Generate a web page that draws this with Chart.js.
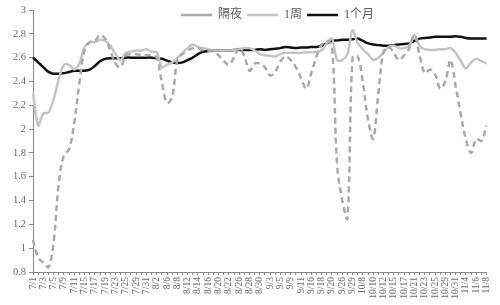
<!DOCTYPE html>
<html>
<head>
<meta charset="utf-8">
<script src="https://cdn.jsdelivr.net/npm/chart.js@4"></script>
<style>
html, body { margin: 0; padding: 0; background: #fff; }
</style>
</head>
<body>
<canvas id="rateChart" width="500" height="305"></canvas>
<script>
// trading days, Jul - Nov
var dates = ['7/1','7/2','7/3','7/4','7/5','7/8','7/9','7/10','7/11','7/12','7/15','7/16','7/17','7/18','7/19','7/22','7/23','7/24','7/25','7/26','7/29','7/30','7/31',
    '8/1','8/2','8/5','8/6','8/7','8/8','8/9','8/12','8/13','8/14','8/15','8/16','8/19','8/20','8/21','8/22','8/23','8/26','8/27','8/28','8/29','8/30',
    '9/2','9/3','9/4','9/5','9/6','9/9','9/10','9/11','9/12','9/16','9/17','9/18','9/19','9/20','9/23','9/26','9/27','9/29','9/30',
    '10/8','10/9','10/10','10/11','10/12','10/14','10/15','10/16','10/17','10/18','10/21','10/22','10/23','10/24','10/25','10/28','10/29','10/30','10/31',
    '11/1','11/4','11/5','11/6','11/7','11/8'];

var overnight = [1.07,0.92,0.88,0.84,1.05,1.55,1.78,1.83,2.05,2.39,2.66,2.73,2.74,2.79,2.76,2.66,2.55,2.52,2.62,2.63,2.63,2.62,2.62,
    2.62,2.60,2.39,2.22,2.27,2.58,2.63,2.66,2.68,2.68,2.66,2.66,2.65,2.62,2.57,2.54,2.60,2.68,2.61,2.49,2.55,2.55,
    2.52,2.45,2.48,2.57,2.61,2.58,2.52,2.43,2.34,2.47,2.61,2.71,2.74,2.70,1.70,1.40,1.25,2.60,2.61,
    2.39,2.08,1.92,2.30,2.65,2.69,2.64,2.58,2.62,2.68,2.79,2.62,2.47,2.50,2.46,2.34,2.40,2.58,2.36,
    2.12,1.91,1.80,1.92,1.90,2.03];

var oneWeek = [2.30,2.03,2.13,2.14,2.25,2.42,2.54,2.54,2.50,2.55,2.69,2.73,2.73,2.75,2.74,2.70,2.63,2.58,2.64,2.65,2.66,2.66,2.67,
    2.65,2.645,2.52,2.54,2.56,2.60,2.64,2.68,2.71,2.69,2.68,2.67,2.66,2.66,2.66,2.66,2.665,2.67,2.68,2.68,2.66,2.63,
    2.62,2.615,2.61,2.63,2.64,2.64,2.64,2.64,2.645,2.645,2.65,2.66,2.72,2.76,2.58,2.58,2.63,2.83,2.72,
    2.67,2.63,2.58,2.60,2.64,2.69,2.70,2.68,2.68,2.70,2.79,2.70,2.67,2.665,2.665,2.67,2.67,2.68,2.64,
    2.57,2.51,2.56,2.59,2.57,2.55];

var oneMonth = [2.60,2.56,2.52,2.48,2.465,2.465,2.47,2.48,2.49,2.49,2.49,2.50,2.53,2.57,2.59,2.595,2.595,2.595,2.60,2.60,2.60,2.60,2.60,
    2.60,2.595,2.59,2.575,2.56,2.555,2.56,2.58,2.60,2.63,2.65,2.655,2.66,2.66,2.66,2.66,2.665,2.665,2.665,2.665,2.665,2.67,
    2.665,2.67,2.675,2.68,2.69,2.685,2.68,2.685,2.685,2.69,2.69,2.70,2.72,2.74,2.745,2.75,2.75,2.755,2.76,
    2.74,2.72,2.71,2.705,2.70,2.70,2.705,2.71,2.715,2.72,2.74,2.76,2.765,2.77,2.775,2.775,2.775,2.775,2.78,
    2.775,2.765,2.76,2.76,2.76,2.76];

var yTicks = [0.8, 1, 1.2, 1.4, 1.6, 1.8, 2, 2.2, 2.4, 2.6, 2.8, 3];

var labelFont = "'Liberation Serif', 'Noto Sans CJK SC', serif";

// legend sits over the top of the plot: take no layout height, then nudge it
var legendOverlay = {
    id: 'legendOverlay',
    beforeLayout: function(chart) {
        var lg = chart.legend;
        if (lg && !lg._noHeight) {
            var fit = lg.fit;
            lg.fit = function() { fit.call(this); this.height = 0; };
            lg._noHeight = true;
        }
    },
    afterLayout: function(chart) {
        var lg = chart.legend;
        lg.left += 68;
        lg.top -= 6;
        lg.bottom = lg.top + 26;
    }
};

var ctx = document.getElementById('rateChart').getContext('2d');
var chart = new Chart(ctx, {
    type: 'line',
    data: {
        labels: dates,
        datasets: [
            {
                label: '隔夜',
                data: overnight,
                borderColor: '#a9a9a9',
                backgroundColor: '#a9a9a9',
                borderWidth: 2.5,
                borderDash: [6, 4],
                pointRadius: 0,
                tension: 0.35
            },
            {
                label: '1周',
                data: oneWeek,
                borderColor: '#c4c4c4',
                backgroundColor: '#c4c4c4',
                borderWidth: 2.5,
                pointRadius: 0,
                tension: 0.35
            },
            {
                label: '1个月',
                data: oneMonth,
                borderColor: '#111111',
                backgroundColor: '#111111',
                borderWidth: 2.5,
                pointRadius: 0,
                tension: 0.35
            }
        ]
    },
    options: {
        responsive: false,
        animation: false,
        devicePixelRatio: 1,
        layout: {
            padding: { left: 0, top: 10, right: 13, bottom: 0 }
        },
        plugins: {
            legend: {
                position: 'top',
                align: 'center',
                labels: {
                    usePointStyle: true,
                    pointStyle: 'line',
                    pointStyleWidth: 31,
                    padding: 5,
                    color: '#595959',
                    font: { family: labelFont, size: 12 }
                }
            },
            tooltip: { enabled: false }
        },
        scales: {
            x: {
                offset: false,
                grid: {
                    drawOnChartArea: false,
                    drawTicks: true,
                    tickLength: 3,
                    color: '#888888'
                },
                border: { color: '#888888', width: 1 },
                ticks: {
                    autoSkip: false,
                    maxRotation: 90,
                    minRotation: 90,
                    padding: 2,
                    color: '#6a6a6a',
                    font: { family: labelFont, size: 9.5 },
                    callback: function(value, index) {
                        return index % 2 === 0 ? this.getLabelForValue(value) : '';
                    }
                },
                afterFit: function(scale) { scale.height = 33; }
            },
            y: {
                min: 0.8,
                max: 3,
                grid: {
                    drawOnChartArea: false,
                    drawTicks: true,
                    tickLength: 4,
                    color: '#888888'
                },
                border: { color: '#888888', width: 1 },
                afterBuildTicks: function(axis) {
                    axis.ticks = yTicks.map(function(v) { return { value: v }; });
                },
                ticks: {
                    padding: 3,
                    color: '#6a6a6a',
                    font: { family: labelFont, size: 10.5 },
                    callback: function(value) { return String(Number(value.toFixed(1))); }
                },
                afterFit: function(scale) { scale.width = 33; }
            }
        }
    },
    plugins: [legendOverlay]
});
</script>
</body>
</html>
